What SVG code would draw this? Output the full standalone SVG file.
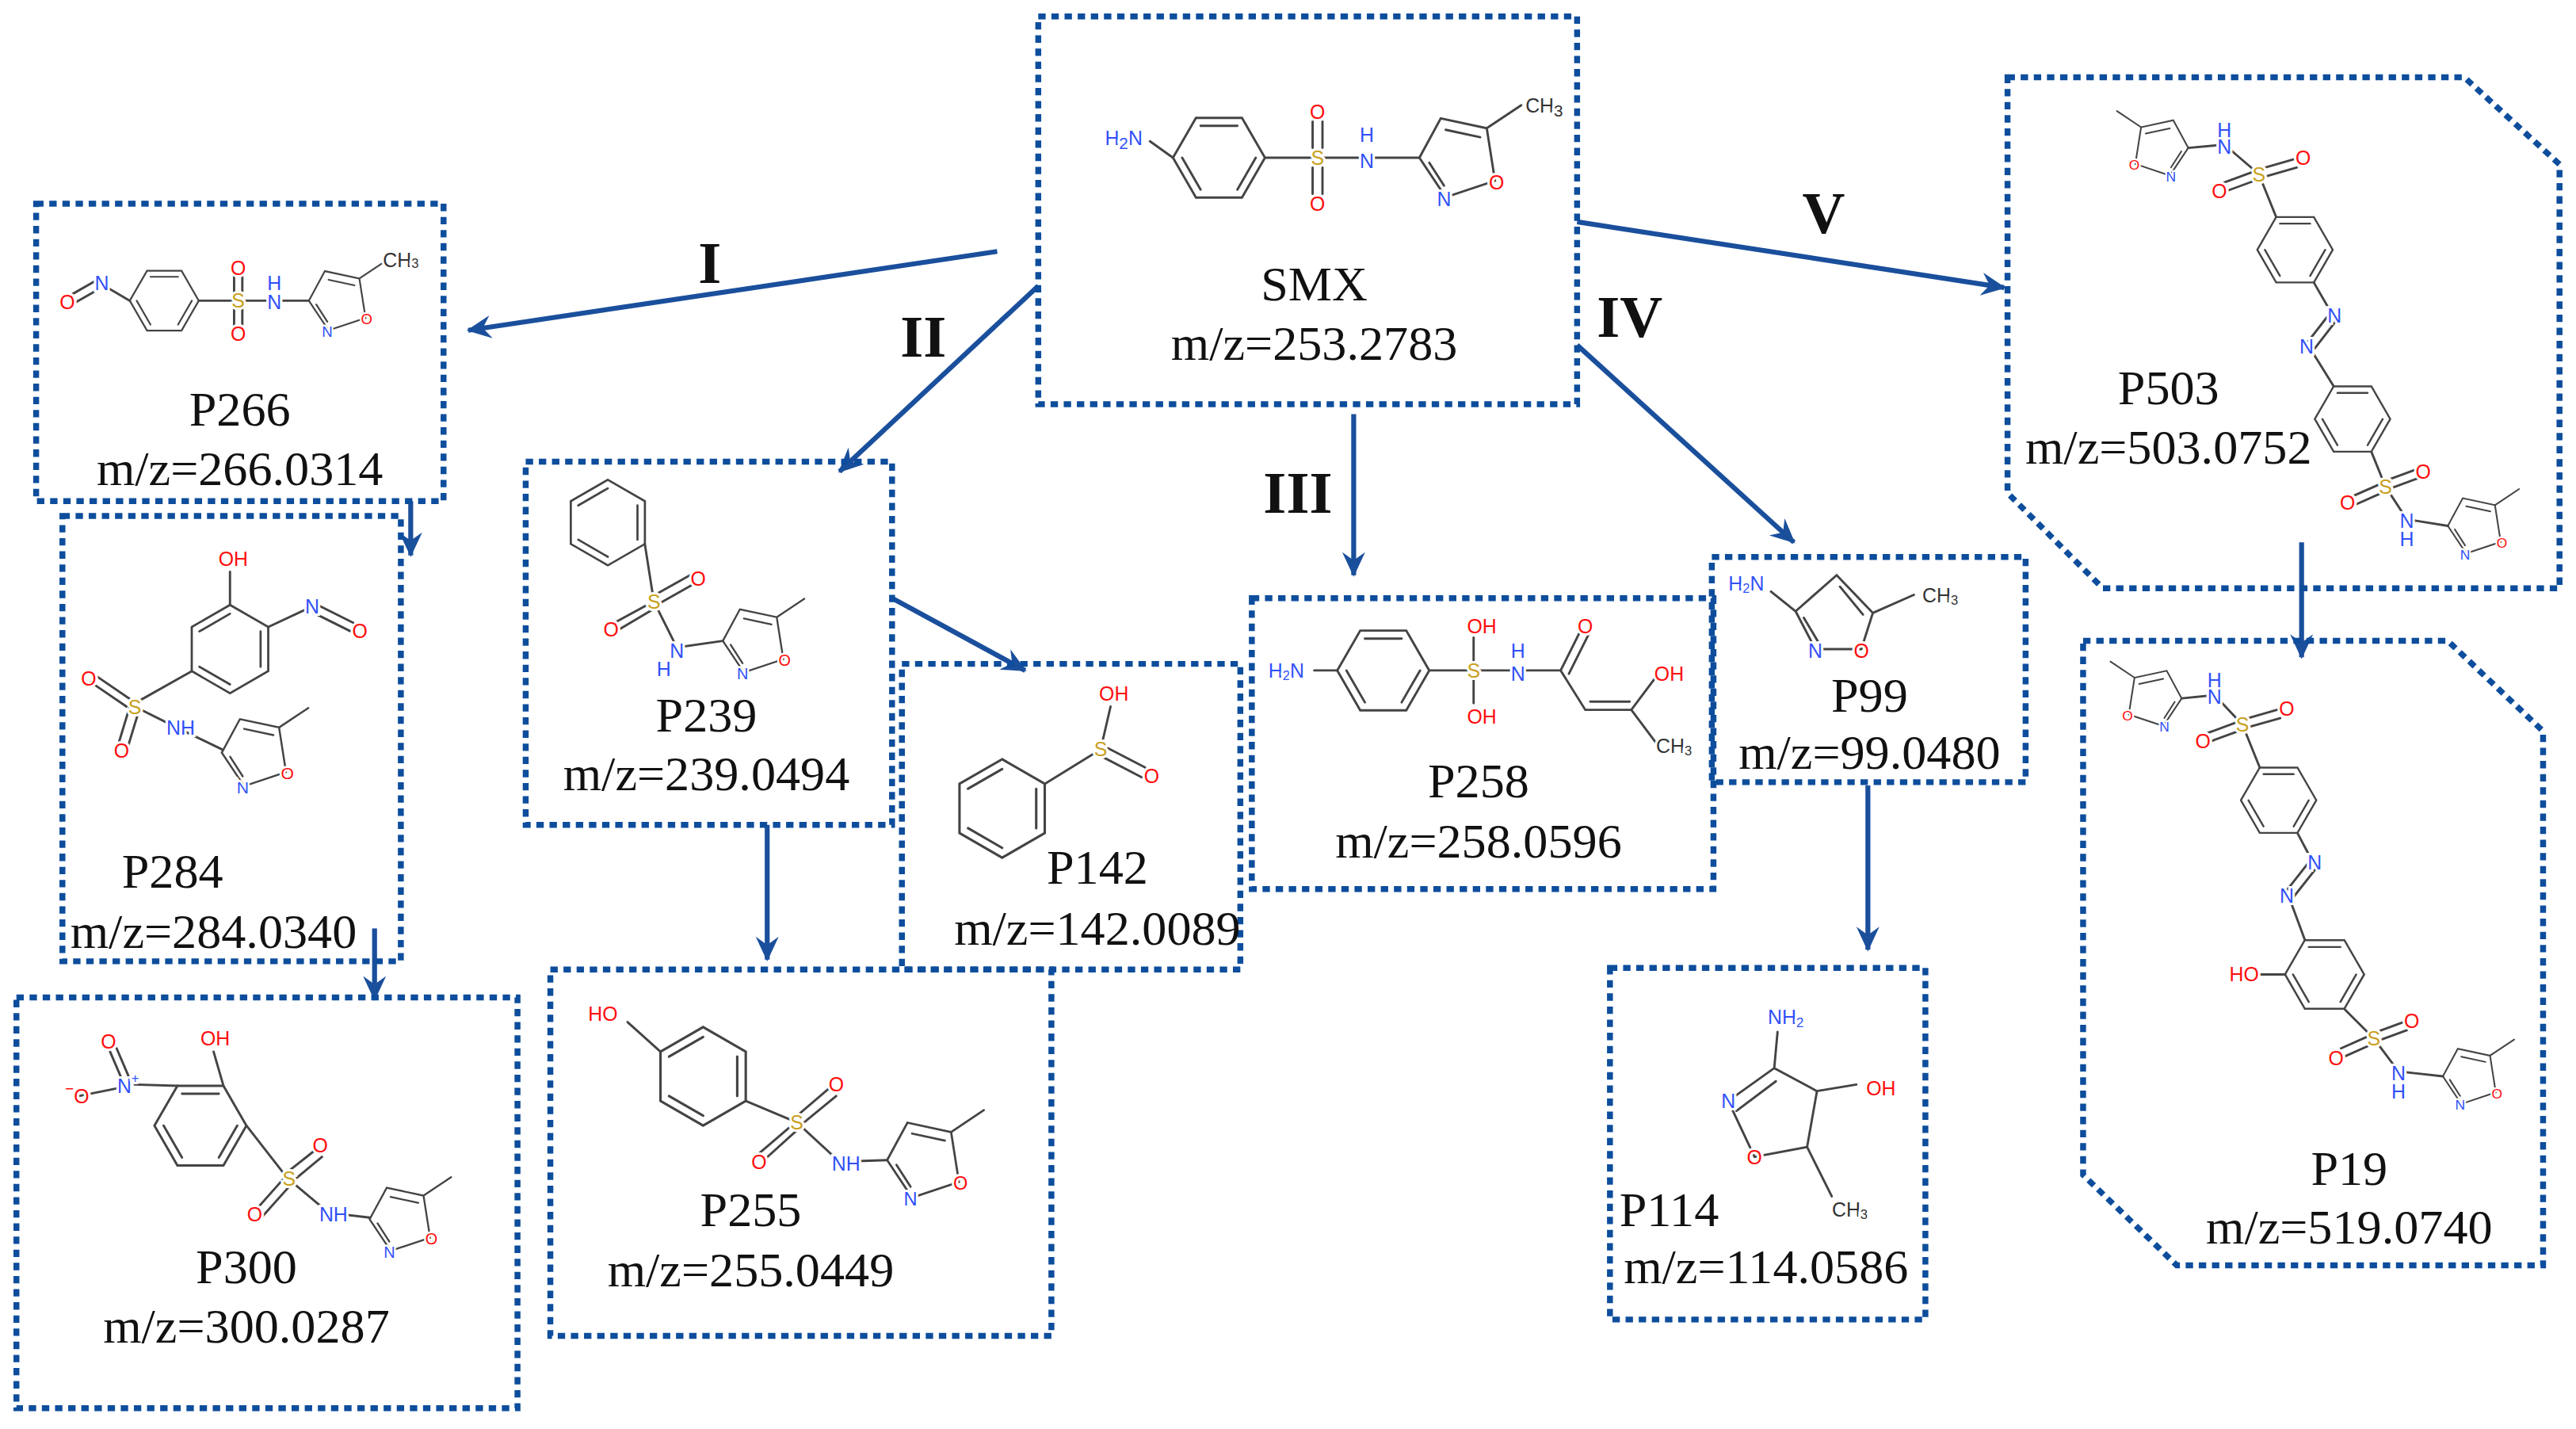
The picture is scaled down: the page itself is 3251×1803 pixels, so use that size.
<svg xmlns="http://www.w3.org/2000/svg" xmlns:xlink="http://www.w3.org/1999/xlink" width="3251" height="1803" viewBox="0 0 3251 1803">
<style>
.bx{fill:none;stroke:#0d4d9c;stroke-width:3.6;stroke-dasharray:4.5 3.5}
.b{fill:none;stroke:#444;stroke-width:1.4;stroke-linecap:round}
.a{font-family:"Liberation Sans",Arial,sans-serif;text-anchor:middle;dominant-baseline:central;paint-order:stroke;stroke:#fff;stroke-width:3;font-size:12px}
.N{fill:#3050f8}.O{fill:#ff0d0d}.S{fill:#c8a020}.C{fill:#333}
.lb{font-family:"Liberation Serif","Times New Roman",serif;font-size:30px;text-anchor:middle;fill:#111}
.rn{font-family:"Liberation Serif","Times New Roman",serif;font-size:36px;font-weight:bold;text-anchor:middle;fill:#111}
.ar{fill:none;stroke:#1a4f9c;stroke-width:3}
</style>
<defs>
<marker id="ah" markerUnits="userSpaceOnUse" markerWidth="20" markerHeight="16" refX="14" refY="8" orient="auto"><path d="M0,1 L15,8 L0,15 L5,8 z" fill="#1a4f9c"/></marker>
<g id="hexF"><polygon class="b" points="-28,0 -14,-24.25 14,-24.25 28,0 14,24.25 -14,24.25"/><path class="b" d="M-11.2,-19.4 L11.2,-19.4 M22.4,0 L11.2,19.4 M-11.2,19.4 L-22.4,0"/></g>
<g id="isoxR"><path class="b" d="M0,0 L13,-24 L41,-18 L46,14 L16,24 Z M16,-17 L37,-12.5 M6,3 L15,17 M41,-18 L62,-32"/><text class="a O" x="47" y="15" font-size="13" stroke-width="2">O</text><text class="a N" x="15" y="25" font-size="13" stroke-width="2">N</text></g>
<g id="isoxL"><path class="b" d="M0,0 L-13,-24 L-41,-18 L-46,14 L-16,24 Z M-16,-17 L-37,-12.5 M-6,3 L-15,17 M-41,-18 L-62,-32"/><text class="a O" x="-47" y="15" font-size="13" stroke-width="2">O</text><text class="a N" x="-15" y="25" font-size="13" stroke-width="2">N</text></g>
</defs>
<g transform="scale(2.0733)">
<g id="connectors">
<line class="ar" x1="607" y1="153" x2="285" y2="201" marker-end="url(#ah)"/>
<line class="ar" x1="632" y1="174" x2="511" y2="287" marker-end="url(#ah)"/>
<line class="ar" x1="824" y1="252" x2="824" y2="350" marker-end="url(#ah)"/>
<line class="ar" x1="960" y1="210" x2="1092" y2="330" marker-end="url(#ah)"/>
<line class="ar" x1="960" y1="135" x2="1220" y2="175" marker-end="url(#ah)"/>
<line class="ar" x1="250" y1="305" x2="250" y2="338" marker-end="url(#ah)"/>
<line class="ar" x1="228" y1="565" x2="228" y2="608" marker-end="url(#ah)"/>
<line class="ar" x1="543" y1="364" x2="624" y2="408" marker-end="url(#ah)"/>
<line class="ar" x1="467" y1="502" x2="467" y2="584" marker-end="url(#ah)"/>
<line class="ar" x1="1137" y1="478" x2="1137" y2="578" marker-end="url(#ah)"/>
<line class="ar" x1="1401" y1="330" x2="1401" y2="400" marker-end="url(#ah)"/>
<text class="rn" x="432" y="172">I</text>
<text class="rn" x="562" y="217">II</text>
<text class="rn" x="790" y="312">III</text>
<text class="rn" x="992" y="205">IV</text>
<text class="rn" x="1110" y="142">V</text>
</g>

<g id="SMX">
<rect class="bx" x="632" y="10" width="328" height="236"/>
<use href="#hexF" transform="translate(742,96)"/>
<path class="b" d="M714,96 L700,86 M770,96 L864,96 M799,74 L799,90 M805,74 L805,90 M799,102 L799,118 M805,102 L805,118"/>
<text class="a N" x="684" y="84" font-size="14">H<tspan font-size="10" dy="3">2</tspan><tspan dy="-3">N</tspan></text>
<text class="a S" x="802" y="96" font-size="14">S</text>
<text class="a O" x="802" y="68" font-size="14">O</text>
<text class="a O" x="802" y="124" font-size="14">O</text>
<text class="a N" x="832" y="98" font-size="14">N</text>
<text class="a N" x="832" y="82" font-size="14">H</text>
<use href="#isoxR" transform="translate(864,96)"/>
<text class="a C" x="940" y="64" font-size="14">CH<tspan font-size="10" dy="3">3</tspan></text>
<text class="lb" x="800" y="183">SMX</text>
<text class="lb" x="800" y="219">m/z=253.2783</text>
</g>

<g id="P266">
<rect class="bx" x="22" y="124" width="248" height="181"/>
<use href="#hexF" transform="translate(100,183) scale(0.75)"/>
<path class="b" d="M79,183 L62,173 M60,176 L46,184 M58,171 L44,179 M121,183 L188,183 M142.5,168 L142.5,178 M147.5,168 L147.5,178 M142.5,188 L142.5,198 M147.5,188 L147.5,198"/>
<text class="a N" x="62" y="172" font-size="11">N</text>
<text class="a O" x="41" y="184" font-size="11">O</text>
<text class="a S" x="145" y="183" font-size="11">S</text>
<text class="a O" x="145" y="163" font-size="11">O</text>
<text class="a O" x="145" y="203" font-size="11">O</text>
<text class="a N" x="167" y="184" font-size="11">N</text>
<text class="a N" x="167" y="172" font-size="11">H</text>
<use href="#isoxR" transform="translate(188,183) scale(0.75)"/>
<text class="a C" x="244" y="158" font-size="11">CH<tspan font-size="8" dy="2">3</tspan></text>
<text class="lb" x="146" y="259">P266</text>
<text class="lb" x="146" y="295">m/z=266.0314</text>
</g>

<g id="P284">
<rect class="bx" x="38" y="314" width="206" height="271"/>
<use href="#hexF" transform="translate(140,395) rotate(90) scale(0.96)"/>
<path class="b" d="M140,368 L140,348 M163.4,381.5 L188,370 M191,373 L213,384 M193,368 L215,379 M116.6,408.5 L82,428 M80,426 L58,411 M77,430 L55,415 M79,430 L72,453 M85,431 L78,454 M82,430 L106,442 L135,456"/>
<text class="a O" x="142" y="340">OH</text>
<text class="a N" x="190" y="369">N</text>
<text class="a O" x="219" y="384">O</text>
<text class="a S" x="82" y="430">S</text>
<text class="a O" x="54" y="413">O</text>
<text class="a O" x="74" y="457">O</text>
<text class="a N" x="110" y="443">NH</text>
<use href="#isoxR" transform="translate(135,458) scale(0.85)"/>
<text class="lb" x="105" y="540">P284</text>
<text class="lb" x="130" y="577">m/z=284.0340</text>
</g>

<g id="P300">
<rect class="bx" x="10" y="607" width="305" height="250"/>
<use href="#hexF" transform="translate(122,685)"/>
<path class="b" d="M136,660.75 L130,640 M108,660.75 L82,660 M76,661 L67,640 M80,659 L71,638 M78,661 L48,667 M150,685 L175,717 M174,714 L193,699 M178,719 L196,704 M172,718 L156,736 M177,721 L160,740 M175,717 L200,738 L225,741"/>
<text class="a O" x="131" y="632">OH</text>
<text class="a N" x="78" y="661">N<tspan font-size="8" dy="-5">+</tspan></text>
<text class="a O" x="66" y="634">O</text>
<text class="a O" x="47" y="667"><tspan font-size="9" dy="-5">−</tspan><tspan dy="5">O</tspan></text>
<text class="a S" x="176" y="717">S</text>
<text class="a O" x="195" y="697">O</text>
<text class="a O" x="155" y="739">O</text>
<text class="a N" x="203" y="739">NH</text>
<use href="#isoxR" transform="translate(225,742) scale(0.8)"/>
<text class="lb" x="150" y="781">P300</text>
<text class="lb" x="150" y="817">m/z=300.0287</text>
</g>

<g id="P239">
<rect class="bx" x="320" y="281" width="223" height="221"/>
<use href="#hexF" transform="translate(370,318) rotate(90) scale(0.93)"/>
<path class="b" d="M392.5,331 L398,366 M397,363 L420,350 M400,368 L423,355 M396,367 L374,379 M399,370 L377,383 M398,366 L412,394 L440,390"/>
<text class="a S" x="398" y="366">S</text>
<text class="a O" x="425" y="352">O</text>
<text class="a O" x="372" y="383">O</text>
<text class="a N" x="412" y="396">N</text>
<text class="a N" x="404" y="407">H</text>
<use href="#isoxR" transform="translate(440,390) scale(0.8)"/>
<text class="lb" x="430" y="445">P239</text>
<text class="lb" x="430" y="481">m/z=239.0494</text>
</g>

<g id="P142">
<rect class="bx" x="549" y="404" width="206" height="186"/>
<use href="#hexF" transform="translate(610,492) rotate(90) scale(1.07)"/>
<path class="b" d="M636,477 L670,456 M670,456 L676,430 M670,453 L697,467 M668,459 L695,473"/>
<text class="a S" x="670" y="456" font-size="14">S</text>
<text class="a O" x="678" y="422" font-size="14">OH</text>
<text class="a O" x="701" y="472" font-size="14">O</text>
<text class="lb" x="668" y="538">P142</text>
<text class="lb" x="668" y="575">m/z=142.0089</text>
</g>

<g id="P255">
<rect class="bx" x="335" y="590" width="305" height="223"/>
<use href="#hexF" transform="translate(428,655) rotate(90) scale(1.07)"/>
<path class="b" d="M402,640 L382,622 M454,670 L485,683 M484,680 L505,662 M487,685 L509,667 M483,684 L462,702 M486,687 L465,706 M485,683 L511,707 L540,706"/>
<text class="a O" x="367" y="617" font-size="14">HO</text>
<text class="a S" x="485" y="683" font-size="14">S</text>
<text class="a O" x="509" y="660" font-size="14">O</text>
<text class="a O" x="462" y="707" font-size="14">O</text>
<text class="a N" x="515" y="708" font-size="14">NH</text>
<use href="#isoxR" transform="translate(540,706) scale(0.95)"/>
<text class="lb" x="457" y="746">P255</text>
<text class="lb" x="457" y="783">m/z=255.0449</text>
</g>

<g id="P258">
<rect class="bx" x="762" y="364" width="281" height="177"/>
<use href="#hexF" transform="translate(842,408)"/>
<path class="b" d="M814,408 L800,408 M870,408 L950,408 M897,408 L897,388 M897,408 L897,428 M950,408 L962,384 M955,410 L967,386 M950,408 L965,432 L993,432 M968,427 L992,427 M993,432 L1008,412 M993,432 L1008,452"/>
<text class="a N" x="783" y="408">H<tspan font-size="8" dy="3">2</tspan><tspan dy="-3">N</tspan></text>
<text class="a S" x="897" y="408">S</text>
<text class="a O" x="902" y="381">OH</text>
<text class="a O" x="902" y="436">OH</text>
<text class="a N" x="924" y="410">N</text>
<text class="a N" x="924" y="396">H</text>
<text class="a O" x="965" y="381">O</text>
<text class="a O" x="1016" y="410">OH</text>
<text class="a C" x="1019" y="454">CH<tspan font-size="8" dy="3">3</tspan></text>
<text class="lb" x="900" y="485">P258</text>
<text class="lb" x="900" y="522">m/z=258.0596</text>
</g>

<g id="P99">
<rect class="bx" x="1042" y="339" width="191" height="137"/>
<path class="b" d="M1093,372 L1118,350 L1140,373 L1133,395 L1105,395 Z M1098,376 L1107,391 M1120,357 L1134,374 M1093,372 L1078,360 M1140,373 L1165,362"/>
<text class="a N" x="1063" y="355">H<tspan font-size="8" dy="3">2</tspan><tspan dy="-3">N</tspan></text>
<text class="a N" x="1105" y="396">N</text>
<text class="a O" x="1133" y="396">O</text>
<text class="a C" x="1181" y="362">CH<tspan font-size="8" dy="3">3</tspan></text>
<text class="lb" x="1138" y="433">P99</text>
<text class="lb" x="1138" y="468">m/z=99.0480</text>
</g>

<g id="P114">
<rect class="bx" x="980" y="589" width="192" height="214"/>
<path class="b" d="M1052,670 L1080,650 L1106,664 L1100,698 L1068,704 Z M1057,676 L1081,658 M1080,650 L1082,628 M1106,664 L1130,660 M1100,698 L1115,728"/>
<text class="a N" x="1087" y="619">NH<tspan font-size="8" dy="3">2</tspan></text>
<text class="a O" x="1145" y="662">OH</text>
<text class="a N" x="1052" y="670">N</text>
<text class="a O" x="1068" y="704">O</text>
<text class="a C" x="1126" y="736">CH<tspan font-size="8" dy="3">3</tspan></text>
<text class="lb" x="1016" y="746">P114</text>
<text class="lb" x="1075" y="781">m/z=114.0586</text>
</g>

<g id="P503">
<polygon class="bx" points="1222,47 1500,47 1558,100 1558,358 1280,358 1222,300"/>
<use href="#isoxL" transform="translate(1332,90) scale(0.7)"/>
<use href="#hexF" transform="translate(1397,152) scale(0.82)"/>
<use href="#hexF" transform="translate(1432,255) scale(0.82)"/>
<path class="b" d="M1332,90 L1354,88 L1375,106 M1375,103 L1396,97 M1377,108 L1398,102 M1373,104 L1354,111 M1375,109 L1356,116 M1375,106 L1385.5,132 M1408.5,172 L1420,192 M1418,191 L1404,209 M1423,194 L1409,212 M1405,210 L1420.5,235 M1443.5,275 L1452,296 M1451,293 L1470,286 M1453,298 L1472,291 M1450,294 L1432,302 M1452,299 L1434,307 M1452,296 L1465,316 L1490,320"/>
<text class="a N" x="1354" y="89" font-size="10">N</text>
<text class="a N" x="1354" y="79" font-size="10">H</text>
<text class="a S" x="1375" y="106" font-size="10">S</text>
<text class="a O" x="1402" y="96" font-size="10">O</text>
<text class="a O" x="1351" y="116" font-size="10">O</text>
<text class="a N" x="1421" y="192" font-size="10">N</text>
<text class="a N" x="1404" y="211" font-size="10">N</text>
<text class="a S" x="1452" y="296" font-size="10">S</text>
<text class="a O" x="1475" y="287" font-size="10">O</text>
<text class="a O" x="1429" y="306" font-size="10">O</text>
<text class="a N" x="1465" y="317" font-size="10">N</text>
<text class="a N" x="1465" y="328" font-size="10">H</text>
<use href="#isoxR" transform="translate(1490,320) scale(0.7)"/>
<text class="lb" x="1320" y="246">P503</text>
<text class="lb" x="1320" y="282">m/z=503.0752</text>
</g>

<g id="P19">
<polygon class="bx" points="1268,390 1490,390 1548,445 1548,770 1325,770 1268,715"/>
<use href="#isoxL" transform="translate(1328,425) scale(0.7)"/>
<use href="#hexF" transform="translate(1387,487) scale(0.82)"/>
<use href="#hexF" transform="translate(1415,593) scale(0.86)"/>
<path class="b" d="M1328,425 L1348,423 L1365,441 M1365,438 L1386,432 M1367,443 L1388,437 M1363,439 L1344,446 M1365,444 L1346,451 M1365,441 L1375.5,467 M1398.5,507 L1408,525 M1406,524 L1391,543 M1411,527 L1396,546 M1393,545 L1403,572 M1391,593 L1375,593 M1427,614 L1445,632 M1444,629 L1463,622 M1446,634 L1465,627 M1443,630 L1425,638 M1445,635 L1427,643 M1445,632 L1460,652 L1487,655"/>
<text class="a N" x="1348" y="424" font-size="10">N</text>
<text class="a N" x="1348" y="414" font-size="10">H</text>
<text class="a S" x="1365" y="441" font-size="10">S</text>
<text class="a O" x="1392" y="431" font-size="10">O</text>
<text class="a O" x="1341" y="451" font-size="10">O</text>
<text class="a N" x="1409" y="525" font-size="10">N</text>
<text class="a N" x="1392" y="545" font-size="10">N</text>
<text class="a O" x="1366" y="593" font-size="10">HO</text>
<text class="a S" x="1445" y="632" font-size="10">S</text>
<text class="a O" x="1468" y="621" font-size="10">O</text>
<text class="a O" x="1422" y="644" font-size="10">O</text>
<text class="a N" x="1460" y="653" font-size="10">N</text>
<text class="a N" x="1460" y="664" font-size="10">H</text>
<use href="#isoxR" transform="translate(1487,655) scale(0.7)"/>
<text class="lb" x="1430" y="721">P19</text>
<text class="lb" x="1430" y="757">m/z=519.0740</text>
</g>
</g>
</svg>
